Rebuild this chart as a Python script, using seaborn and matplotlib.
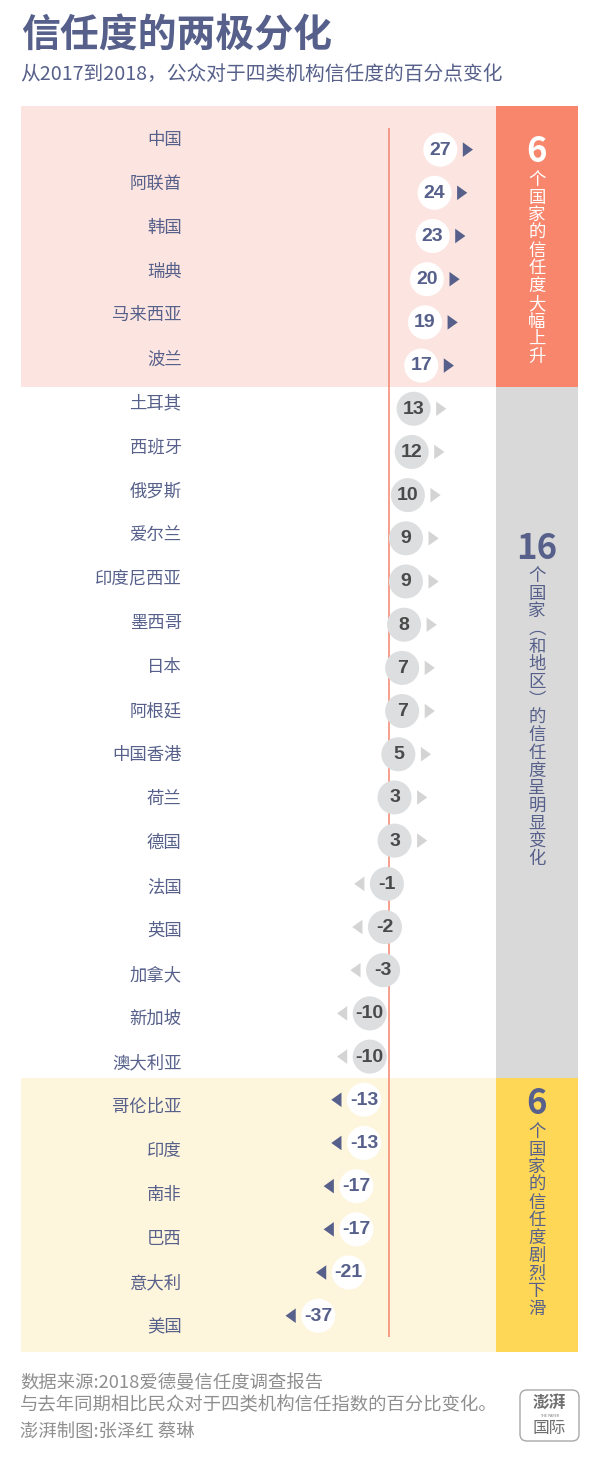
import numpy as np
import pandas as pd
import seaborn as sns
import matplotlib.pyplot as plt
from matplotlib.patches import FancyBboxPatch
from matplotlib.transforms import blended_transform_factory

# data
countries = ['中国', '阿联酋', '韩国', '瑞典', '马来西亚', '波兰',
             '土耳其', '西班牙', '俄罗斯', '爱尔兰', '印度尼西亚', '墨西哥',
             '日本', '阿根廷', '中国香港', '荷兰', '德国', '法国', '英国',
             '加拿大', '新加坡', '澳大利亚',
             '哥伦比亚', '印度', '南非', '巴西', '意大利', '美国']
changes = [27, 24, 23, 20, 19, 17,
           13, 12, 10, 9, 9, 8, 7, 7, 5, 3, 3, -1, -2, -3, -10, -10,
           -13, -13, -17, -17, -21, -37]
bands = ['up'] * 6 + ['mid'] * 16 + ['down'] * 6

band_names = ['up', 'mid', 'down']
band_counts = ['6', '16', '6']
band_texts = ['个国家的信任度大幅上升',
              '个国家︵和地区︶的信任度呈明显变化',
              '个国家的信任度剧烈下滑']

title = '信任度的两极分化'
subtitle = '从2017到2018，公众对于四类机构信任度的百分点变化'
footer = ['数据来源:2018爱德曼信任度调查报告',
          '与去年同期相比民众对于四类机构信任指数的百分比变化。',
          '澎湃制图:张泽红 蔡琳']

BLUE = '#56608a'
PINK = '#fce5e0'
ORANGE = '#f7866d'
SIDE_GREY = '#d9d9d9'
CREAM = '#fef5dd'
YELLOW = '#fed757'
CIRCLE_GREY = '#dcdedf'
ARROW_GREY = '#d4d4d4'
LINE_RED = '#f4846f'

band_bg = {'up': PINK, 'mid': 'white', 'down': CREAM}
side_bg = {'up': ORANGE, 'mid': SIDE_GREY, 'down': YELLOW}
side_fg = {'up': 'white', 'mid': BLUE, 'down': BLUE}

sns.set_theme(style='white')
plt.rcParams['font.family'] = ['Noto Sans CJK SC', 'DejaVu Sans']

W, H = 600, 1466
fig = plt.figure(figsize=(W / 100, H / 100), dpi=100)


def fx(px):
    return px / W


def fy(py):
    return 1 - py / H


df = pd.DataFrame({'country': countries, 'change': changes, 'band': bands})
df['row'] = np.arange(len(df))
df['kind'] = np.where(df['band'] == 'mid', 'mid', 'edge')
df['arrow_x'] = df['change'] + np.sign(df['change']) * 14.5

rect = [fx(20.7), fy(1352), (578.3 - 20.7) / W, (1352 - 106) / H]
SIDE_X = (495.7 - 20.7) / (578.3 - 20.7)

# axis for the marks
ax = fig.add_axes(rect)
ax.set_xlim(-193.1, 99.4)
ax.set_ylim(27.84, -1.01)
ax.set_axis_off()

lo, hi = ax.get_ylim()[1], ax.get_ylim()[0]
for i, b in enumerate(band_names):
    rows = df.loc[df['band'] == b, 'row']
    y0 = lo if i == 0 else rows.min() - 0.5
    y1 = hi if i == len(band_names) - 1 else rows.max() + 0.5
    ax.axhspan(y0, y1, xmin=0, xmax=SIDE_X, color=band_bg[b], lw=0, zorder=0)
    ax.axhspan(y0, y1, xmin=SIDE_X, xmax=1, color=side_bg[b], lw=0, zorder=0)

ax.vlines(0, -0.5, len(df) - 0.5, color=LINE_RED, lw=1.1, zorder=1)

sns.scatterplot(data=df, x='change', y='row', hue='kind',
                palette={'edge': 'white', 'mid': CIRCLE_GREY},
                s=600, linewidth=0, legend=False, ax=ax, zorder=3)

right_tri = [(-0.7, -1), (0.7, 0), (-0.7, 1)]
left_tri = [(0.7, -1), (-0.7, 0), (0.7, 1)]
arrow_pal = {'edge': BLUE, 'mid': ARROW_GREY}
sns.scatterplot(data=df[df['change'] > 0], x='arrow_x', y='row', hue='kind',
                palette=arrow_pal, marker=right_tri, s=110, linewidth=0,
                legend=False, ax=ax, zorder=3)
sns.scatterplot(data=df[df['change'] < 0], x='arrow_x', y='row', hue='kind',
                palette=arrow_pal, marker=left_tri, s=110, linewidth=0,
                legend=False, ax=ax, zorder=3)

for _, r in df.iterrows():
    ax.text(r['change'], r['row'] + 0.01, f"{r['change']}", ha='center', va='center',
            fontsize=14, fontweight='bold', family='Liberation Sans',
            color=BLUE if r['kind'] == 'edge' else '#4a4a4a', zorder=4)

# axis for the country labels
ax_lab = fig.add_axes(rect)
ax_lab.set_xlim(0, 1)
ax_lab.set_ylim(27.57, -0.762)
ax_lab.set_axis_off()
tr = blended_transform_factory(ax_lab.transAxes, ax_lab.transData)
for _, r in df.iterrows():
    ax_lab.text(0.2887, r['row'], r['country'], transform=tr, ha='right',
                va='center', fontsize=12.5, color=BLUE)

# side panel texts
side_tops = [152, 548, 1104]
for b, cnt, txt, ty in zip(band_names, band_counts, band_texts, side_tops):
    fig.text(fx(537), fy(ty), cnt, ha='center', va='center', fontsize=25,
             fontweight='bold', color=side_fg[b])
    for k, ch in enumerate(txt):
        fig.text(fx(537), fy(ty + 28 + 17.7 * k), ch, ha='center', va='center',
                 fontsize=12.5, color=side_fg[b])

# titles
fig.text(fx(21), fy(36), title, ha='left', va='center', fontsize=28,
         fontweight='bold', color=BLUE)
fig.text(fx(20), fy(74), subtitle, ha='left', va='center', fontsize=14.2, color=BLUE)

# footer
for line, py in zip(footer, [1383, 1405, 1433]):
    fig.text(fx(20), fy(py), line, ha='left', va='center', fontsize=13.2, color='#8f8f8f')

logo = FancyBboxPatch((5.20, (H - 1441) / 100), 0.59, 0.51,
                      boxstyle='round,pad=0,rounding_size=0.07',
                      transform=fig.dpi_scale_trans, fill=False,
                      ec='#a8a8a8', lw=1)
fig.add_artist(logo)
fig.text(fx(549.5), fy(1403), '澎湃', ha='center', va='center', fontsize=12,
         fontweight='bold', color='#6f6f6f')
fig.text(fx(549.5), fy(1416), 'THE PAPER', ha='center', va='center', fontsize=2.5,
         color='#7a7a7a', family='DejaVu Sans')
fig.text(fx(549.5), fy(1429), '国际', ha='center', va='center', fontsize=12,
         color='#6f6f6f')

fig.savefig('out.png', dpi=100, facecolor='white')
